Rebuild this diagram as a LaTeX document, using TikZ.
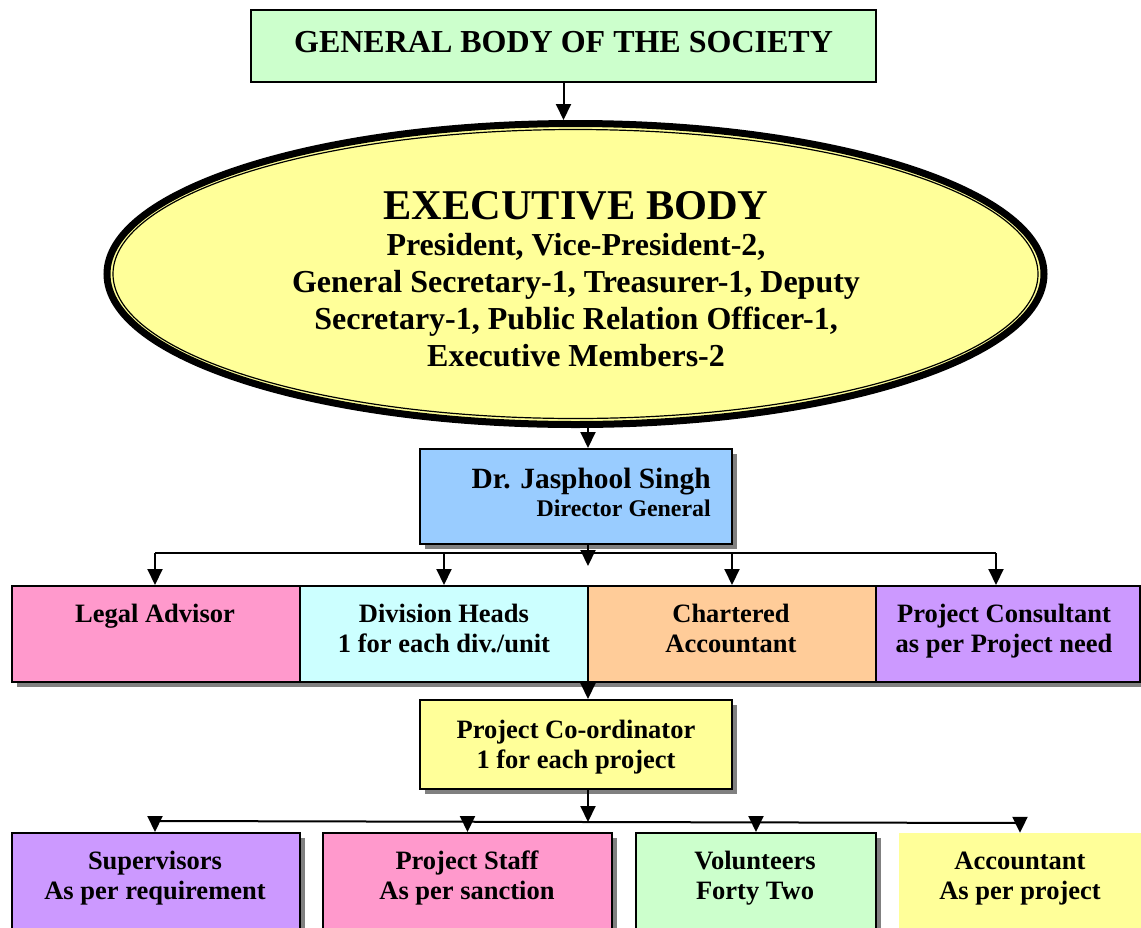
\documentclass[tikz,border=0pt]{standalone}
\usepackage{fontspec}
\setmainfont{Liberation Serif}
\usetikzlibrary{shapes.geometric,arrows.meta,shadows}
\definecolor{cgreen}{HTML}{CCFFCC}
\definecolor{cyellow}{HTML}{FFFF99}
\definecolor{cblue}{HTML}{99CCFF}
\definecolor{cpink}{HTML}{FF99CC}
\definecolor{ccyan}{HTML}{CCFFFF}
\definecolor{corange}{HTML}{FFCC99}
\definecolor{cpurple}{HTML}{CC99FF}
\definecolor{cshadow}{HTML}{808080}
\begin{document}
\begin{tikzpicture}[x=1pt,y=-1pt,
  box/.style={draw=black, line width=2pt, rectangle, inner sep=0pt},
  shd/.style={general shadow={fill=cshadow, shadow xshift=5pt, shadow yshift=-5pt}},
  arr/.style={line width=2pt, -{Triangle[width=15pt,length=16pt]}},
  txt/.style={font=\bfseries\fontsize{26.5}{30}\selectfont, align=center, inner sep=0pt, anchor=base},
  ln/.style={line width=2pt}]
\fill[white] (0,0) rectangle (1141,927);
\useasboundingbox (0,0) rectangle (1141,927);

% top
\node[box, line width=2.5pt, fill=cgreen, minimum width=625pt, minimum height=72pt] (gb) at (563.5,46) {};
\node[txt, font=\bfseries\fontsize{32}{36}\selectfont] (gbt) at (563.5,52) {GENERAL BODY OF THE SOCIETY};

% ellipse
\node[ellipse, draw=black, line width=7pt, fill=cyellow, minimum width=937pt, minimum height=301pt, inner sep=0pt] (exec) at (575.5,274) {};
\node[ellipse, draw=black, line width=1.2pt, minimum width=925pt, minimum height=289pt, inner sep=0pt] (execin) at (exec.center) {};
\node[txt, font=\bfseries\fontsize{42.4}{48}\selectfont] (et) at (576,219) {EXECUTIVE BODY};
\node[txt, font=\bfseries\fontsize{32}{36.7}\selectfont] (em) at (576,366) {President, Vice-President-2,\\General Secretary-1, Treasurer-1, Deputy\\Secretary-1, Public Relation Officer-1,\\Executive Members-2};

% director general
\node[box, shd, fill=cblue, minimum width=312pt, minimum height=95pt] (dg) at (576,496.5) {};
\node[font=\bfseries\fontsize{29.4}{34}\selectfont, anchor=base east, inner sep=0pt] (dgn) at (711,488) {Dr. Jasphool Singh};
\node[font=\bfseries\fontsize{23.9}{28}\selectfont, anchor=base east, inner sep=0pt] (dgt) at (711,516) {Director General};

% row 1
\node[box, shd, fill=cpink, minimum width=288pt, minimum height=96pt] (r1) at (156,634) {};
\node[box, shd, fill=ccyan, minimum width=288pt, minimum height=96pt] (r2) at (444,634) {};
\node[box, shd, fill=corange, minimum width=288pt, minimum height=96pt] (r3) at (732,634) {};
\node[box, shd, fill=cpurple, minimum width=264pt, minimum height=96pt] (r4) at (1008,634) {};
\node[txt] (r1t) at (155,622) {Legal Advisor};
\node[txt] (r2t) at (444,652) {Division Heads\\1 for each div./unit};
\node[txt] (r3t) at (731,652) {Chartered\\Accountant};
\node[txt] (r4t) at (1004,652) {Project Consultant\\as per Project need};

% project coordinator
\node[box, shd, fill=cyellow, minimum width=312pt, minimum height=89pt] (pc) at (576,744.5) {};
\node[txt] (pct) at (576,768) {Project Co-ordinator\\1 for each project};

% row 2
\node[box, shd, fill=cpurple, minimum width=288pt, minimum height=107pt] (b1) at (156,886.5) {};
\node[box, shd, fill=cpink, minimum width=289pt, minimum height=107pt] (b2) at (467.5,886.5) {};
\node[box, shd, fill=cgreen, minimum width=240pt, minimum height=107pt] (b3) at (756,886.5) {};
\node[rectangle, inner sep=0pt, fill=cyellow, minimum width=251pt, minimum height=107pt] (b4) at (1024.5,886.5) {};
\node[txt] (b1t) at (155,899) {Supervisors\\As per requirement};
\node[txt] (b2t) at (467,899) {Project Staff\\As per sanction};
\node[txt] (b3t) at (755,899) {Volunteers\\Forty Two};
\node[txt] (b4t) at (1020,899) {Accountant\\As per project};

% connectors
\coordinate (ax) at (588,0);
\draw[arr] (gb.south) -- (gb.south |- exec.north);
\draw[arr] (exec.south -| ax) -- (dg.north -| ax);
\coordinate (hub1) at (588,566);
\coordinate (l1a) at (155,553);
\coordinate (l1b) at (996,553);
\draw[ln] (l1a) -- (l1b);
\draw[arr] (dg.south -| ax) -- (hub1);
\draw[arr] (l1a) -- (l1a |- r1.north);
\draw[arr] (r2.north |- l1a) -- (r2.north);
\draw[arr] (r3.north |- l1a) -- (r3.north);
\draw[arr] (l1b) -- (l1b |- r4.north);

\draw[arr] (r2.south -| ax) -- (pc.north -| ax);
\coordinate (hub2) at (588,822);
\coordinate (l2a) at (155,821);
\coordinate (l2b) at (1020,823);
\draw[ln] (l2a) -- (l2b);
\draw[arr] (pc.south -| ax) -- (hub2);
\draw[arr] (l2a) -- (l2a |- b1.north);
\draw[arr] ([yshift=4pt]b2.north |- l2a) -- (b2.north);
\draw[arr] ([yshift=4pt]b3.north |- l2a) -- (b3.north);
\draw[arr] ([yshift=4pt]l2b) -- (l2b |- b4.north);
\end{tikzpicture}
\end{document}
